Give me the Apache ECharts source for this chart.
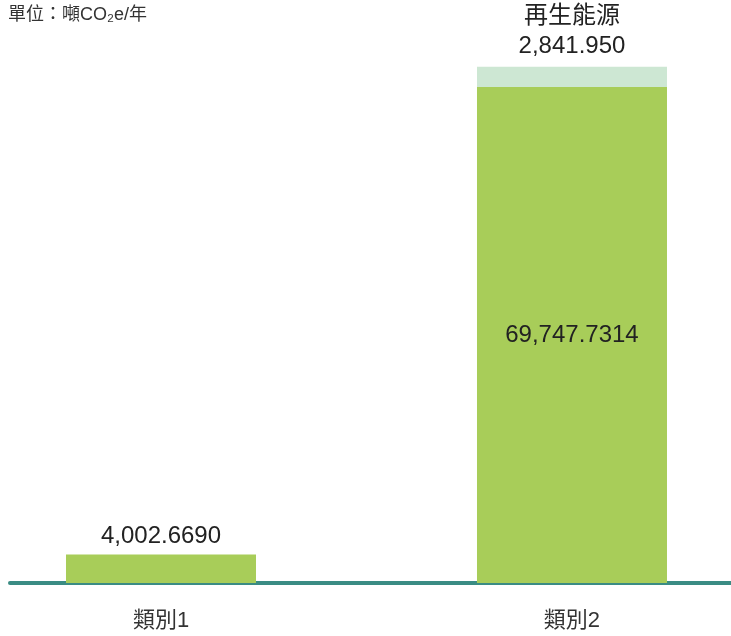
<!DOCTYPE html>
<html><head><meta charset="utf-8">
<script src="https://cdn.jsdelivr.net/npm/echarts@6/dist/echarts.min.js"></script>
<style>html,body{margin:0;padding:0;background:#fff}#c{width:731px;height:636px}</style>
</head><body><div id="c"></div>
<script>
const categories = ['類別1', '類別2'];
const baseValues = [4002.6690, 69747.7314];
const renewableValues = [null, 2841.950];
const renewableName = '再生能源';
const unitText = '單位：噸CO₂e/年';

const FONT = '"Liberation Sans", "Noto Sans CJK TC", sans-serif';
const fmt = (v, d) => Number(v).toLocaleString('en-US', {minimumFractionDigits: d, maximumFractionDigits: d});

const chart = echarts.init(document.getElementById('c'));
chart.setOption({
  animation: false,
  textStyle: {fontFamily: FONT},
  title: {text: unitText, left: 3, top: 1, textStyle: {fontSize: 18, fontWeight: 'normal', color: '#333', fontFamily: FONT}},
  grid: {left: 10, right: 0, top: 14, bottom: 53},
  xAxis: {
    type: 'value', min: -0.3674, max: 1.3869,
    splitLine: {show: false},
    axisLine: {show: true, onZero: false, lineStyle: {color: '#3a8c84', width: 4}},
    axisTick: {show: false},
    axisLabel: {customValues: [0, 1], margin: 27, fontSize: 22, color: '#333', fontFamily: FONT,
      formatter: v => categories[Math.round(v)] || ''}
  },
  yAxis: {type: 'value', min: 0, max: 80000, show: false, splitLine: {show: false}},
  series: [
    // renewable segment: drawn behind, reaching the stacked total
    {type: 'bar', name: renewableName, barWidth: 190, barGap: '-100%',
     itemStyle: {color: '#cde7d3'},
     label: {show: true, position: 'top', distance: 5, fontSize: 24, color: '#222', lineHeight: 30,
       formatter: p => renewableValues[p.dataIndex] == null ? '' : p.seriesName + '\n' + fmt(renewableValues[p.dataIndex], 3)},
     data: renewableValues.map((v, i) => v == null ? [i, null] : [i, baseValues[i] + v])},
    {type: 'bar', name: '類別', barWidth: 190, barGap: '-100%',
     itemStyle: {color: '#a8cd59'},
     data: baseValues.map((v, i) => ({
       value: [i, v],
       label: i === 0
         ? {show: true, position: 'top', distance: 6, fontSize: 24, color: '#222', formatter: p => fmt(p.value[1], 4)}
         : {show: true, position: 'inside', fontSize: 24, color: '#222', formatter: p => fmt(p.value[1], 4)}
     }))}
  ]
});
</script></body></html>
